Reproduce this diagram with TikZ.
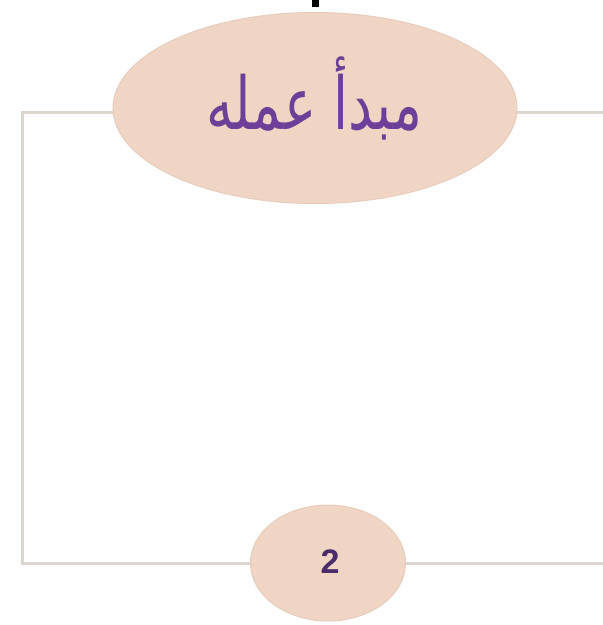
\documentclass[tikz,border=0pt]{standalone}
\usepackage{fontspec}
\usetikzlibrary{shapes.geometric}
\TeXXeTstate=1
\newfontfamily\arabicfont[Script=Arabic]{DejaVu Sans}
\setsansfont{Liberation Sans}
\definecolor{framec}{HTML}{DDD6CE}
\definecolor{ellfill}{HTML}{F0D5C4}
\definecolor{ellline}{HTML}{E6CDBD}
\definecolor{txtpurple}{HTML}{6E3F98}
\definecolor{numpurple}{HTML}{4A2C6C}
\tikzset{
  frameline/.style={draw=framec, line width=3pt},
  ovalbox/.style={ellipse, fill=ellfill, draw=ellline, line width=1pt, inner sep=0pt},
}
\begin{document}
\begin{tikzpicture}[x=1pt,y=-1pt]
\useasboundingbox (0,0) rectangle (603,625);
\coordinate (tr) at (605,112);
\coordinate (tl) at (22,112);
\coordinate (bl) at (22,563);
\coordinate (br) at (605,563);
\draw[frameline] (tr) -- (tl) -- (bl) -- (br);
\node[ovalbox, minimum width=404pt, minimum height=191pt] (top) at (315,108) {};
\node[text=txtpurple, font=\arabicfont\fontsize{54}{60}\selectfont] (toptext) at (314,98) {\scalebox{1}[1.35]{\beginR مبدأ عمله\endR}};
\node[ovalbox, minimum width=155pt, minimum height=116pt] (bot) at (328,563) {};
\node[text=numpurple, font=\sffamily\bfseries\fontsize{34}{40}\selectfont] (num) at (330,562) {2};
\fill[black] (312,0) rectangle (319,7);
\end{tikzpicture}
\end{document}
